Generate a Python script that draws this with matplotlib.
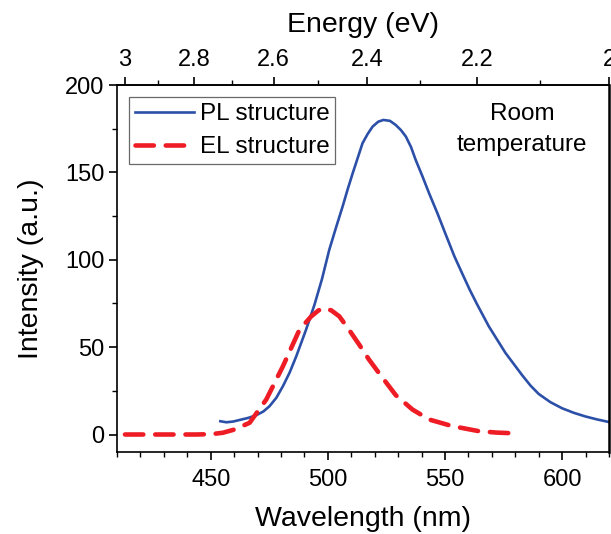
import matplotlib
matplotlib.use("Agg")
from matplotlib import pyplot as plt
from matplotlib.ticker import MultipleLocator, FixedLocator

plt.rcParams['font.family'] = ['Liberation Sans', 'DejaVu Sans']

# PL spectrum (wavelength nm, intensity a.u.)
pl_wl = [454.1, 456.7, 459.5, 462.3, 466.0, 469.4, 472.5, 475.1, 478.0, 480.8,
         483.7, 486.5, 490.7, 494.3, 497.5, 500.6, 503.5, 506.3, 508.5, 510.6,
         512.8, 514.8, 517.0, 519.1, 521.5, 523.7, 526.5, 529.0, 531.2, 533.3,
         535.5, 537.5, 540.3, 543.2, 546.8, 550.3, 554.0, 557.4, 560.5, 563.7,
         568.7, 575.8, 582.9, 586.5, 590.0, 595.0, 600.0, 605.0, 610.0, 615.0, 619.8]
pl_int = [7.6, 7.0, 7.4, 8.3, 9.5, 11.0, 13.2, 16.2, 21.0, 27.6,
          35.5, 44.7, 60.0, 74.3, 89.0, 105.7, 118.5, 130.5, 140.5, 149.5,
          158.5, 166.7, 172.0, 176.2, 179.0, 180.0, 179.5, 177.1, 174.2, 170.5,
          164.5, 157.1, 148.0, 138.1, 126.5, 114.5, 102.0, 92.0, 83.0, 74.5,
          61.9, 46.7, 34.0, 28.0, 23.2, 18.5, 15.0, 12.4, 10.3, 8.6, 7.2]

# EL spectrum
el_wl = [413.4, 425.0, 435.0, 443.9, 450.3, 455.2, 460.0, 466.6, 473.7, 480.8,
         487.9, 492.9, 496.0, 498.5, 501.5, 504.9, 509.0, 513.4, 517.5, 521.9,
         529.0, 536.1, 543.2, 553.1, 564.5, 572.0, 580.8]
el_int = [0.0, 0.0, 0.0, 0.0, 0.2, 1.0, 2.8, 6.7, 20.0, 39.0,
          60.0, 67.6, 71.0, 72.4, 71.0, 67.6, 60.0, 51.4, 43.0, 35.0,
          22.5, 14.3, 8.6, 4.8, 1.9, 1.1, 0.6]

energy_ticks = [3, 2.8, 2.6, 2.4, 2.2, 2]
energy_labels = ['3', '2.8', '2.6', '2.4', '2.2', '2']
energy_minor = [2.9, 2.7, 2.5, 2.3, 2.1]

fig = plt.figure(figsize=(6.11, 5.34), dpi=100)
ax = fig.add_axes([0.1915, 0.1536, 0.8052, 0.6872])

ax.plot(pl_wl, pl_int, color='#2c50a8', lw=1.9, label='PL structure')
ax.plot(el_wl, el_int, color='#ee1c25', lw=3.3, dashes=(4, 2.6),
        dash_capstyle='round', label='EL structure')

ax.set_xlim(410, 620)
ax.set_ylim(-10, 200)
ax.xaxis.set_major_locator(FixedLocator([450, 500, 550, 600]))
ax.xaxis.set_minor_locator(MultipleLocator(10))
ax.yaxis.set_major_locator(MultipleLocator(50))
ax.yaxis.set_minor_locator(MultipleLocator(25))

for s in ax.spines.values():
    s.set_linewidth(1.2)
ax.spines['right'].set_linewidth(1.8)

ax.tick_params(which='major', direction='out', length=6, width=1.2, labelsize=17)
ax.tick_params(which='minor', direction='out', length=3.5, width=1.0)
ax.tick_params(axis='x', which='major', pad=6)
ax.tick_params(axis='y', which='major', pad=3)

ax.set_xlabel('Wavelength (nm)', fontsize=20.5, labelpad=11)
ax.set_ylabel('Intensity (a.u.)', fontsize=20.5, labelpad=15)

top = ax.secondary_xaxis('top', functions=(lambda x: 1240.0 / x, lambda e: 1240.0 / e))
top.set_xticks(energy_ticks, energy_labels)
top.xaxis.set_minor_locator(FixedLocator(energy_minor))
top.tick_params(which='major', direction='out', length=6, width=1.2, labelsize=17, pad=4)
top.tick_params(which='minor', direction='out', length=3.5, width=1.0)
top.spines['top'].set_linewidth(1.2)
top.set_xlabel('Energy (eV)', fontsize=20.5, labelpad=12)

leg = ax.legend(loc='upper left', fontsize=17.5, handlelength=2.4, frameon=True,
                fancybox=False, borderaxespad=0.5, borderpad=0.25,
                labelspacing=0.45, handletextpad=0.25)
leg.get_frame().set_edgecolor('#444444')
leg.get_frame().set_linewidth(0.9)

ax.text(0.823, 0.95, 'Room\ntemperature', transform=ax.transAxes, ha='center',
        va='top', fontsize=17.5, linespacing=1.5)

fig.savefig('out.png', dpi=100)
